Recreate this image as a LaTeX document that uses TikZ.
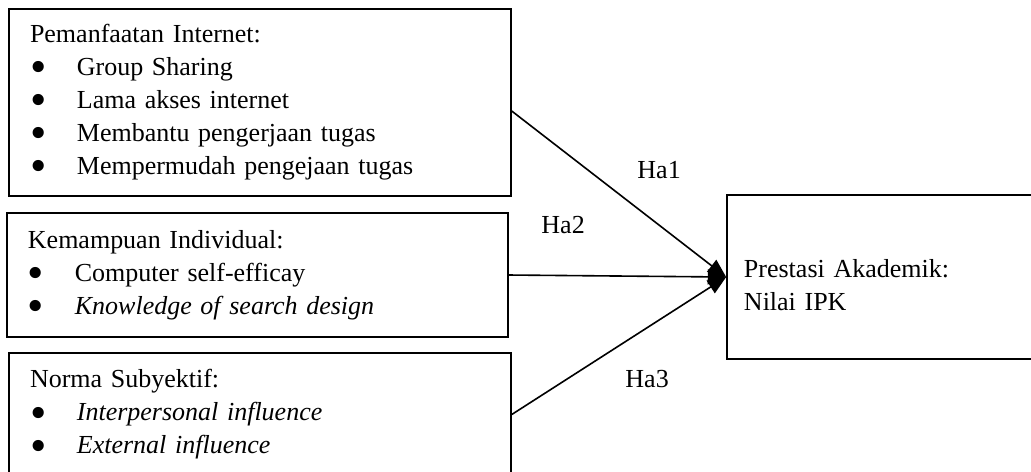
\documentclass[tikz,border=0pt]{standalone}
\usepackage{fontspec}
\setmainfont{Liberation Serif}
\usetikzlibrary{arrows.meta,calc,positioning}
\newcommand{\bitem}{\makebox[20.4pt][l]{\smash{\raisebox{-3.1pt}{\scalebox{1.8}{\textbullet}}}}}
\tikzset{
  var/.style={rectangle,draw,line width=0.7pt,align=left,inner xsep=9.1pt,inner ysep=0pt,font=\fontsize{11.3}{14.35}\selectfont},
  hyp/.style={-{Triangle[length=8pt,width=6.5pt]},line width=0.7pt},
  hlbl/.style={anchor=base west,inner sep=0pt,font=\fontsize{11.3}{14.35}\selectfont}
}

\begin{document}
\begin{tikzpicture}[x=0.4348pt,y=-0.4348pt]
\path[use as bounding box] (0,0) rectangle (1031,471);
\clip (0,0) rectangle (1031,471);
% variabel bebas
\node[var,text width=200pt,minimum height=81.3pt] (in1) at (260,102.5)
  {Pemanfaatan Internet:\\ \bitem Group Sharing\\ \bitem Lama akses internet\\
   \bitem Membantu pengerjaan tugas\\ \bitem Mempermudah pengejaan tugas};
\node[var,text width=199.6pt,minimum height=53.9pt] (in2) at (257.5,275)
  {Kemampuan Individual:\\ \bitem Computer self-efficay\\ \bitem \textit{Knowledge of search design}};
\node[var,text width=200pt,minimum height=53.5pt] (in3) at (260,414.5)
  {Norma Subyektif:\\ \bitem \textit{Interpersonal influence}\\ \bitem \textit{External influence}};
% variabel terikat
\node[var,inner xsep=7.4pt,text width=123.5pt,minimum height=71.3pt,text depth=7pt] (out) at (886,277)
  {Prestasi Akademik:\\ Nilai IPK};
% hipotesis
\draw[hyp] ([yshift=-3.7pt]in1.east) -- (out.west);
\draw[hyp] (in2.east) -- (out.west);
\draw[hyp] (in3.east) -- (out.west);
\node[hlbl] (ha1) at (637,178) {Ha1};
\node[hlbl] (ha2) at (541,233) {Ha2};
\node[hlbl] (ha3) at (625,387) {Ha3};
\end{tikzpicture}
\end{document}
